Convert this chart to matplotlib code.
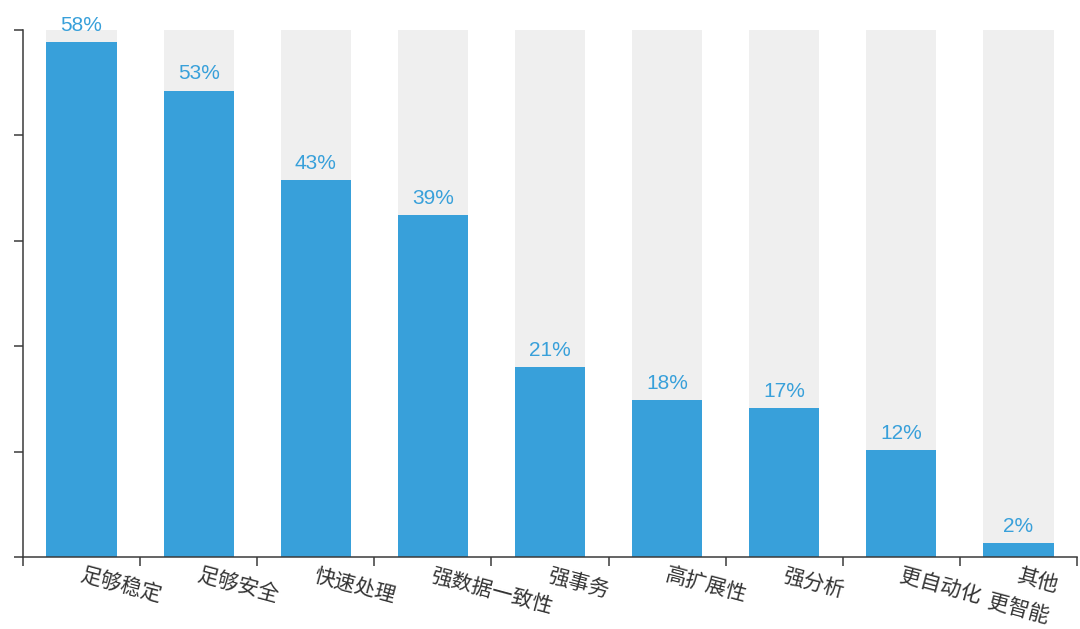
import numpy as np
import matplotlib
matplotlib.use("Agg")
import matplotlib.pyplot as plt

plt.rcParams['font.family'] = ['Noto Sans CJK SC', 'DejaVu Sans']

categories = ["足够稳定", "足够安全", "快速处理", "强数据一致性", "强事务",
              "高扩展性", "强分析", "更自动化", "其他"]
values = [58.6, 53.1, 42.9, 38.9, 21.6, 17.9, 17.0, 12.2, 1.6]
value_labels = ["58%", "53%", "43%", "39%", "21%", "18%", "17%", "12%", "2%"]
extra_line = "更智能"   # second line under the last category
y_max = 60

blue = '#38a0da'
gray = '#efefef'
axis_col = '#3a3a3a'
rot = -15
fs = 15

fig = plt.figure(figsize=(10.8, 6.29), dpi=100)
ax = fig.add_axes([23/1080, 1 - 557/629, (1077-23)/1080, (557-30)/629])

x = np.arange(len(categories)) + 0.5
ax.bar(x, [y_max]*len(x), width=0.6, color=gray, zorder=1)
ax.bar(x, values, width=0.6, color=blue, zorder=2)

for xi, v, lab in zip(x, values, value_labels):
    ax.annotate(lab, (xi, v), xytext=(0, 8), textcoords="offset points",
                ha='center', va='baseline', fontsize=fs, color=blue,
                family=['Liberation Sans', 'DejaVu Sans'], zorder=3)

# category labels, rotated, starting at the bar centre
for i, (xi, cat) in enumerate(zip(x, categories)):
    ax.annotate(cat, (xi, 0), xytext=(1, -5), textcoords="offset points",
                ha='left', va='top', rotation=rot, rotation_mode='anchor',
                fontsize=fs, color='#333333')
# second line of last label, right-aligned to the end of the first line
th = np.deg2rad(rot)
w1 = 2 * fs
lh = 1.6 * fs
dx = w1*np.cos(th) + lh*np.sin(th) + 1
dy = w1*np.sin(th) - lh*np.cos(th) - 5
ax.annotate(extra_line, (x[-1], 0), xytext=(dx, dy), textcoords="offset points",
            ha='right', va='top', rotation=rot, rotation_mode='anchor',
            fontsize=fs, color='#333333')

ax.set_xlim(0, len(categories))
ax.set_ylim(0, y_max)
ax.set_xticks(np.arange(len(categories) + 1))
ax.set_xticklabels([])
ax.set_yticks(np.arange(0, y_max + 1, 12))
ax.set_yticklabels([])
ax.tick_params(direction='out', length=6.5, width=1.1, color=axis_col)
for s in ['top', 'right']:
    ax.spines[s].set_visible(False)
for s in ['left', 'bottom']:
    ax.spines[s].set_color(axis_col)
    ax.spines[s].set_linewidth(1.1)

fig.savefig("out.png", dpi=100)
